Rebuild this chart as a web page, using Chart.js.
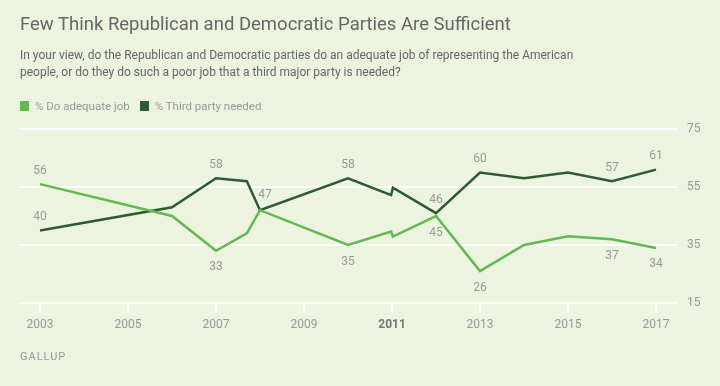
<!DOCTYPE html>
<html>
<head>
<meta charset="utf-8">
<script src="https://cdn.jsdelivr.net/npm/chart.js@4.4.1/dist/chart.umd.min.js"></script>
<style>
  html, body { margin: 0; padding: 0; background: #ECF3DE; }
  #wrap { position: relative; width: 720px; height: 386px; overflow: hidden; font-family: Roboto, "Noto Sans", sans-serif; }
  #chart { position: absolute; left: 0; top: 0; }
  #title { position: absolute; left: 20px; top: 13px; font-size: 18.5px; color: #666; white-space: nowrap; }
  #subtitle { position: absolute; left: 20px; top: 47px; width: 560px; font-size: 12px; line-height: 17px; color: #666; }
  #legend { position: absolute; left: 20px; top: 99px; display: flex; font-size: 11.5px; color: #999; }
  .item { display: flex; align-items: center; margin-right: 10px; }
  .box { width: 9px; height: 10px; margin-right: 6px; }
  #source { position: absolute; left: 20px; top: 350px; font-size: 11px; letter-spacing: 1px; color: #999; }
</style>
</head>
<body>
<div id="wrap">
  <canvas id="chart" width="720" height="386"></canvas>
  <div id="title">Few Think Republican and Democratic Parties Are Sufficient</div>
  <div id="subtitle">In your view, do the Republican and Democratic parties do an adequate job of representing the American people, or do they do such a poor job that a third major party is needed?</div>
  <div id="legend"></div>
  <div id="source">GALLUP</div>
</div>
<script>
// survey dates (decimal years); the pair around 2011 draws the break mark
const years = [2003, 2006, 2007, 2007.7, 2008, 2010, 2010.98, 2011.02, 2012, 2013, 2014, 2015, 2016, 2017];
const adequateJob = [56, 45, 33, 39, 47, 35, 39.6, 37.9, 45, 26, 35, 38, 37, 34];
const thirdParty = [40, 48, 58, 57, 47, 58, 52.2, 54.8, 46, 60, 58, 60, 57, 61];
const seriesNames = ['% Do adequate job', '% Third party needed'];
const xTicks = [2003, 2005, 2007, 2009, 2011, 2013, 2015, 2017];
const yTicks = [15, 35, 55, 75];

const colors = ['#62B851', '#2C5A32'];

// which points get a value label, and where
const labelPlaces = [
    { 0: 'above', 2: 'below', 5: 'below', 8: 'below', 9: 'below', 12: 'below', 13: 'below' },
    { 0: 'above', 2: 'above', 4: 'right', 5: 'above', 8: 'above', 9: 'above', 12: 'above', 13: 'above' }
];
const offsets = { above: [0, -13.5], below: [0, 16.5], right: [5, -15] };

// legend
const legend = document.getElementById('legend');
seriesNames.forEach((name, i) => {
    const item = document.createElement('div');
    item.className = 'item';
    const box = document.createElement('span');
    box.className = 'box';
    box.style.background = colors[i];
    item.appendChild(box);
    item.appendChild(document.createTextNode(name));
    legend.appendChild(item);
});

function toPoints(values) {
    return values.map((v, i) => ({ x: years[i], y: v }));
}

const valueLabels = {
    id: 'valueLabels',
    afterDatasetsDraw(chart) {
        const c = chart.ctx;
        c.save();
        c.font = '12px Roboto';
        c.fillStyle = '#999';
        c.textAlign = 'center';
        c.textBaseline = 'middle';
        chart.data.datasets.forEach((ds, di) => {
            const meta = chart.getDatasetMeta(di);
            Object.keys(labelPlaces[di]).forEach(i => {
                const p = meta.data[i];
                const off = offsets[labelPlaces[di][i]];
                c.fillText(ds.data[i].y, p.x + off[0], p.y + off[1]);
            });
        });
        c.restore();
    }
};

const ctx = document.getElementById('chart').getContext('2d');
const chart = new Chart(ctx, {
    type: 'line',
    data: {
        datasets: [{
            label: seriesNames[0],
            data: toPoints(adequateJob),
            borderColor: colors[0],
            borderWidth: 2.5,
            pointRadius: 0,
            tension: 0
        }, {
            label: seriesNames[1],
            data: toPoints(thirdParty),
            borderColor: colors[1],
            borderWidth: 2.5,
            pointRadius: 0,
            tension: 0
        }]
    },
    options: {
        responsive: false,
        animation: false,
        layout: { padding: { left: 20, top: 129, right: 0, bottom: 43 } },
        plugins: { legend: { display: false }, tooltip: { enabled: false } },
        scales: {
            x: {
                type: 'linear',
                min: 2002.545,
                max: 2017.477,
                afterBuildTicks: s => { s.ticks = xTicks.map(v => ({ value: v })); },
                afterFit: s => { s.height = 40; },
                grid: { drawOnChartArea: false, drawTicks: true, tickLength: 10, color: '#fff', lineWidth: 2 },
                border: { display: false },
                ticks: {
                    padding: 5,
                    autoSkip: false,
                    maxRotation: 0,
                    callback: v => String(v),
                    color: c => c.tick && c.tick.value === 2011 ? '#777' : '#999',
                    font: c => ({ family: 'Roboto', size: 12, weight: c.tick && c.tick.value === 2011 ? 'bold' : 'normal' })
                }
            },
            y: {
                position: 'right',
                min: 15,
                max: 75,
                afterBuildTicks: s => { s.ticks = yTicks.map(v => ({ value: v })); },
                afterFit: s => { s.width = 43; },
                grid: { color: '#fff', lineWidth: 2, drawTicks: false },
                border: { display: false },
                ticks: { padding: 10, color: '#999', font: { family: 'Roboto', size: 12 } }
            }
        }
    },
    plugins: [valueLabels]
});
</script>
</body>
</html>
